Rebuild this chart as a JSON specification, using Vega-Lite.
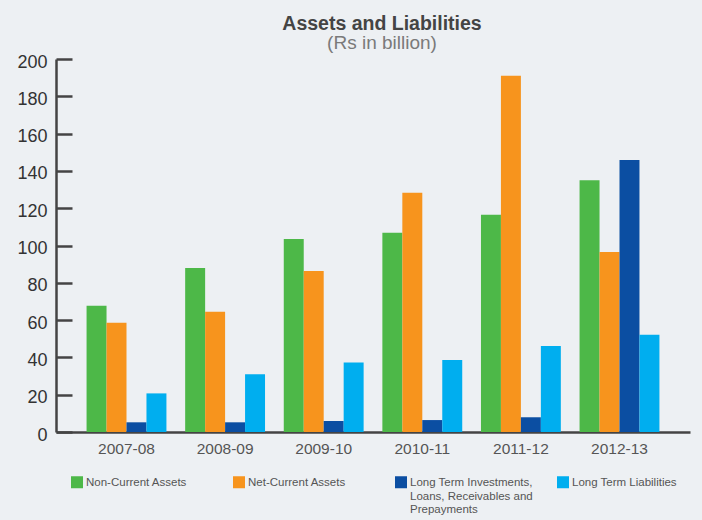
{
  "$schema": "https://vega.github.io/schema/vega-lite/v6.json",
  "width": 634,
  "height": 373,
  "autosize": {"type": "none"},
  "padding": {"left": 56, "top": 59, "right": 12, "bottom": 88},
  "background": "#edf0f3",
  "title": {
    "text": "Assets and Liabilities",
    "subtitle": "(Rs in billion)",
    "anchor": "middle",
    "dx": 9,
    "offset": -1,
    "font": "Liberation Sans",
    "fontSize": 19.5,
    "fontWeight": "bold",
    "color": "#444444",
    "subtitleFont": "Liberation Sans",
    "subtitleFontSize": 19,
    "subtitleColor": "#7a7a7a",
    "subtitlePadding": 0
  },
  "data": {
    "values": [
      {"year": "2007-08", "series": "Non-Current Assets", "value": 67.7},
      {"year": "2007-08", "series": "Net-Current Assets", "value": 58.6},
      {"year": "2007-08", "series": "Long Term Investments, Loans, Receivables and Prepayments", "value": 5.2},
      {"year": "2007-08", "series": "Long Term Liabilities", "value": 20.7},
      {"year": "2008-09", "series": "Non-Current Assets", "value": 88},
      {"year": "2008-09", "series": "Net-Current Assets", "value": 64.5},
      {"year": "2008-09", "series": "Long Term Investments, Loans, Receivables and Prepayments", "value": 5.2},
      {"year": "2008-09", "series": "Long Term Liabilities", "value": 31},
      {"year": "2009-10", "series": "Non-Current Assets", "value": 103.5},
      {"year": "2009-10", "series": "Net-Current Assets", "value": 86.3},
      {"year": "2009-10", "series": "Long Term Investments, Loans, Receivables and Prepayments", "value": 5.9},
      {"year": "2009-10", "series": "Long Term Liabilities", "value": 37.2},
      {"year": "2010-11", "series": "Non-Current Assets", "value": 106.9},
      {"year": "2010-11", "series": "Net-Current Assets", "value": 128.3},
      {"year": "2010-11", "series": "Long Term Investments, Loans, Receivables and Prepayments", "value": 6.4},
      {"year": "2010-11", "series": "Long Term Liabilities", "value": 38.6},
      {"year": "2011-12", "series": "Non-Current Assets", "value": 116.5},
      {"year": "2011-12", "series": "Net-Current Assets", "value": 191},
      {"year": "2011-12", "series": "Long Term Investments, Loans, Receivables and Prepayments", "value": 7.9},
      {"year": "2011-12", "series": "Long Term Liabilities", "value": 46.1},
      {"year": "2012-13", "series": "Non-Current Assets", "value": 135},
      {"year": "2012-13", "series": "Net-Current Assets", "value": 96.5},
      {"year": "2012-13", "series": "Long Term Investments, Loans, Receivables and Prepayments", "value": 145.8},
      {"year": "2012-13", "series": "Long Term Liabilities", "value": 52.2}
    ]
  },
  "mark": {"type": "bar"},
  "encoding": {
    "x": {
      "field": "year",
      "type": "nominal",
      "scale": {"paddingInner": 0.19, "paddingOuter": 0.31},
      "axis": {
        "title": null,
        "labelAngle": 0,
        "ticks": false,
        "domainColor": "#444444",
        "domainWidth": 2.5,
        "labelFont": "Liberation Sans",
        "labelFontSize": 15.5,
        "labelColor": "#555555",
        "labelPadding": 9,
        "grid": false
      }
    },
    "xOffset": {
      "field": "series",
      "type": "nominal",
      "sort": ["Non-Current Assets", "Net-Current Assets", "Long Term Investments, Loans, Receivables and Prepayments", "Long Term Liabilities"],
      "scale": {"paddingInner": 0, "paddingOuter": 0}
    },
    "y": {
      "field": "value",
      "type": "quantitative",
      "scale": {"domain": [0, 200]},
      "axis": {
        "title": null,
        "values": [0, 20, 40, 60, 80, 100, 120, 140, 160, 180, 200],
        "grid": false,
        "domainColor": "#444444",
        "domainWidth": 2.5,
        "tickColor": "#444444",
        "tickWidth": 2.5,
        "tickSize": -16,
        "labelPadding": 25,
        "labelOffset": 3,
        "labelFont": "Liberation Sans",
        "labelFontSize": 18,
        "labelColor": "#333333"
      }
    },
    "color": {
      "field": "series",
      "type": "nominal",
      "sort": ["Non-Current Assets", "Net-Current Assets", "Long Term Investments, Loans, Receivables and Prepayments", "Long Term Liabilities"],
      "scale": {
        "domain": ["Non-Current Assets", "Net-Current Assets", "Long Term Investments, Loans, Receivables and Prepayments", "Long Term Liabilities"],
        "range": ["#4db848", "#f7941d", "#0b4ea2", "#00aeef"]
      },
      "legend": {
        "title": null,
        "orient": "none",
        "legendX": 15,
        "legendY": 412,
        "direction": "horizontal",
        "columns": 4,
        "gridAlign": "all",
        "columnPadding": 24,
        "padding": 0,
        "symbolType": "M-1,-0.167H1V1.833H-1Z",
        "symbolSize": 144,
        "symbolStrokeWidth": 0,
        "symbolOpacity": 1,
        "labelOffset": 3,
        "labelFont": "Liberation Sans",
        "labelFontSize": 11.5,
        "labelColor": "#555555",
        "labelLimit": 200,
        "labelBaseline": "top",
        "labelExpr": "datum.label == 'Long Term Investments, Loans, Receivables and Prepayments' ? ['Long Term Investments,', 'Loans, Receivables and', 'Prepayments'] : [datum.label, ' ', ' ']"
      }
    }
  },
  "config": {
    "view": {"stroke": null},
    "axis": {"labelFont": "Liberation Sans"}
  }
}
